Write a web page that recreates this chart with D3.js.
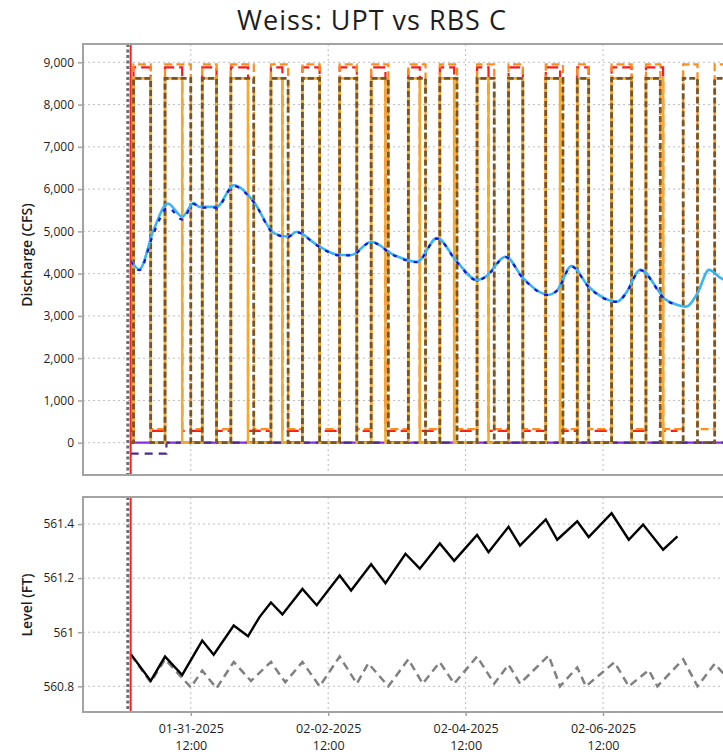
<!DOCTYPE html>
<html><head><meta charset="utf-8">
<script src="https://cdn.jsdelivr.net/npm/d3@7/dist/d3.min.js"></script>
<style>
body{margin:0;background:#fff;}
svg{display:block;font-family:"Open Sans","Noto Sans",sans-serif;}
</style>
</head><body>
<svg id="chart" width="723" height="755"></svg>
<script>
// ---------------- DATA ----------------
const chartTitle = "Weiss: UPT vs RBS C";
const forecastStart = "2025-01-30T15:00:00";   // red line
const axisStartHours = -16.65;                  // hours relative to forecastStart
const axisEndHours = 213.2;
const nowMarkerHours = -1;                      // gray dotted line
const xTickDates = ["2025-01-31T12:00:00","2025-02-02T12:00:00","2025-02-04T12:00:00","2025-02-06T12:00:00"];
const flowTicks = [0,1000,2000,3000,4000,5000,6000,7000,8000,9000];
const flowDomain = [-764, 9433];
const levelTicks = [560.8, 561, 561.2, 561.4];
const levelDomain = [560.705, 561.5];

// inflow (smooth)
const inflowHours = [0,3,8,13,18,22,24,30,36,43,50,55,58,65,73,77,84,92,100,107,114,121,124,131,137,146,149,154,160,170,173,178,187,191,194,198,202,206,211];
const inflowRBS = [4320,4100,5030,5660,5350,5670,5580,5580,6090,5700,4960,4875,4990,4680,4440,4440,4755,4440,4280,4840,4280,3850,3930,4400,3900,3500,3610,4180,3690,3340,3540,4090,3380,3260,3220,3540,4090,3900,3750];
const inflowUPTHours = [0,3,8,13,18,22,24,30,36,43,50,55,58,65,73,77,84,92,100,107,114,121,124,131,137,146,149,154,160,170,173,178,187,191];
const inflowUPT = [4300,4080,4950,5560,5280,5650,5560,5560,6070,5690,4950,4870,4980,4670,4430,4430,4745,4430,4270,4830,4270,3840,3920,4390,3890,3490,3600,4170,3680,3330,3530,4080,3370,3250];

// turbine outflow, UPT (solid orange) - step series
const uptFlowHours = [0,1,7,12,18,25,30,35,41,49,53,60,66,73,79,84,89,97,101,108,113,121,125,132,137,145,150,156,160,168,175,180,186,191];
const uptFlow      = [0,8620,0,8620,0,8620,0,8620,0,8620,0,8620,0,8620,0,8620,0,8620,0,8620,0,8620,0,8620,0,8620,0,8620,0,8620,0,8620,0,0];
// total outflow, UPT (red dashed)
const uptTotal     = [280,8880,280,8880,280,8880,280,8880,280,8880,280,8880,280,8880,280,8880,280,8880,280,8880,280,8880,280,8880,280,8880,280,8880,280,8880,280,8880,280,280];
// turbine outflow, RBS C (brown dashed)
const rbsFlowHours = [0,1,7,12,21,25,30,35,43,49,55,60,66,73,79,84,90,97,103,108,114,121,127,132,137,145,151,156,160,168,175,180,185,193,198,204,214];
const rbsFlow      = [0,8620,0,8620,0,8620,0,8620,0,8620,0,8620,0,8620,0,8620,0,8620,0,8620,0,8620,0,8620,0,8620,0,8620,0,8620,0,8620,0,8620,0,8620,8620];
// total outflow, RBS C (orange dashed)
const rbsTotal     = [320,8950,320,8950,320,8950,320,8950,320,8950,320,8950,320,8950,320,8950,320,8950,320,8950,320,8950,320,8950,320,8950,320,8950,320,8950,320,8950,320,8950,320,8950,8950];
// spill
const spillUPTHours = [0,214];
const spillUPT = [0,0];
const spillRBSHours = [0,12.5,214];
const spillRBS = [-260,0,0];

// pool level
const levelUPTHours = [0,7,12,18,25,29,36,41,45,49,53,60,65,73,77,84,89,96,101,108,113,116,121,125,132,136,145,149,156,160,168,174,179,186,191];
const levelUPT = [560.92,560.82,560.91,560.842,560.969,560.917,561.025,560.985,561.056,561.11,561.066,561.16,561.10,561.21,561.154,561.251,561.181,561.29,561.235,561.328,561.264,561.30,561.36,561.296,561.39,561.32,561.417,561.342,561.41,561.352,561.44,561.342,561.398,561.305,561.354];
const levelRBSHours = [0,7,12,21,25,30,36,42,49,54,60,66,73,79,83,90,97,102,108,113,121,127,132,136,146,150,156,159,169,174,181,184,193,198,204,212];
const levelRBS = [560.917,560.815,560.90,560.796,560.858,560.793,560.89,560.82,560.89,560.815,560.89,560.80,560.91,560.81,560.885,560.80,560.90,560.81,560.889,560.81,560.91,560.81,560.88,560.81,560.914,560.80,560.87,560.80,560.889,560.80,560.86,560.80,560.90,560.80,560.883,560.79];

// ---------------- CHART ----------------
const svg = d3.select("#chart");
const t0 = new Date(forecastStart);
const hr = h => new Date(t0.getTime() + h * 3600e3);
const L = 83, R = 741;
const top1 = 44, bot1 = 475, top2 = 497, bot2 = 712;

const x = d3.scaleTime().domain([hr(axisStartHours), hr(axisEndHours)]).range([L, R]);
const yF = d3.scaleLinear().domain(flowDomain).range([bot1, top1]);
const yL = d3.scaleLinear().domain(levelDomain).range([bot2, top2]);
const xTicks = xTickDates.map(d => new Date(d));

const gridColor = "#bdbdbd", frameColor = "#a3a3a3", textColor = "#1e1e1e";

svg.append("defs").call(d => {
  d.append("clipPath").attr("id","clip1").append("rect").attr("x",L).attr("y",top1).attr("width",R-L).attr("height",bot1-top1);
  d.append("clipPath").attr("id","clip2").append("rect").attr("x",L).attr("y",top2).attr("width",R-L).attr("height",bot2-top2);
});

svg.append("text").attr("x", 372).attr("y", 30).attr("text-anchor","middle")
  .attr("font-size", 27).attr("letter-spacing", 1).attr("fill", textColor).text(chartTitle);

function panel(yScale, ticks, fmt, top, bot, clipId) {
  const g = svg.append("g");
  g.selectAll(".hg").data(ticks).join("line")
    .attr("x1", L).attr("x2", R).attr("y1", d => yScale(d)).attr("y2", d => yScale(d))
    .attr("stroke", gridColor).attr("stroke-dasharray","2,3").attr("stroke-width",1);
  g.selectAll(".vg").data(xTicks).join("line")
    .attr("x1", d => x(d)).attr("x2", d => x(d)).attr("y1", top).attr("y2", bot)
    .attr("stroke", gridColor).attr("stroke-dasharray","2,3").attr("stroke-width",1);
  const ax = g.append("g").attr("transform", `translate(${L},0)`)
    .call(d3.axisLeft(yScale).tickValues(ticks).tickFormat(fmt).tickSize(5).tickPadding(4));
  ax.select(".domain").remove();
  ax.selectAll(".tick line").attr("stroke", frameColor).attr("stroke-width",1.5);
  ax.selectAll(".tick text").attr("font-size", 12).attr("fill", textColor).attr("font-family","Open Sans");
  return svg.append("g").attr("clip-path", `url(#${clipId})`);
}

const c1 = panel(yF, flowTicks, d3.format(","), top1, bot1, "clip1");
const c2 = panel(yL, levelTicks, d => String(d), top2, bot2, "clip2");

function series(g, hours, vals, yScale, curve, color, width, dash) {
  const data = hours.map((h, i) => [hr(h), vals[i]]);
  g.append("path").datum(data)
    .attr("d", d3.line().x(d => x(d[0])).y(d => yScale(d[1])).curve(curve))
    .attr("fill","none").attr("stroke", color).attr("stroke-width", width)
    .attr("stroke-dasharray", dash || null).attr("stroke-linejoin","miter");
}

series(c1, spillUPTHours, spillUPT, yF, d3.curveStepAfter, "#8a2be2", 2.2);
series(c1, spillRBSHours, spillRBS, yF, d3.curveStepAfter, "#4b2a8c", 2.2, "8,6");
series(c1, uptFlowHours, uptTotal, yF, d3.curveStepAfter, "#ff1a1a", 2.2, "12,5");
series(c1, rbsFlowHours, rbsTotal, yF, d3.curveStepAfter, "#ff8c1a", 2.2, "8,4");
series(c1, uptFlowHours, uptFlow, yF, d3.curveStepAfter, "#f2ab2e", 2.6);
series(c1, rbsFlowHours, rbsFlow, yF, d3.curveStepAfter, "#7a5524", 2.8, "6,3");
series(c1, inflowHours, inflowRBS, yF, d3.curveMonotoneX, "#3ab4f2", 2.6);
series(c1, inflowUPTHours, inflowUPT, yF, d3.curveMonotoneX, "#1414d8", 2.2, "4,7");

series(c2, levelRBSHours, levelRBS, yL, d3.curveLinear, "#808080", 2.5, "8,5");
series(c2, levelUPTHours, levelUPT, yL, d3.curveLinear, "#000000", 2.4);

[[top1,bot1],[top2,bot2]].forEach(([a,b]) => {
  svg.append("line").attr("x1", x(hr(nowMarkerHours))).attr("x2", x(hr(nowMarkerHours)))
    .attr("y1", a).attr("y2", b).attr("stroke","#6e6e6e").attr("stroke-width",3).attr("stroke-dasharray","3,2.5");
  svg.append("line").attr("x1", x(t0)).attr("x2", x(t0))
    .attr("y1", a).attr("y2", b).attr("stroke","#ff2020").attr("stroke-width",2);
});

[[top1,bot1],[top2,bot2]].forEach(([a,b]) => {
  svg.append("rect").attr("x", L).attr("y", a).attr("width", R - L).attr("height", b - a)
    .attr("fill","none").attr("stroke", frameColor).attr("stroke-width", 2);
});

const xa = svg.append("g").attr("transform", `translate(0,${bot2})`)
  .call(d3.axisBottom(x).tickValues(xTicks).tickSize(4).tickFormat(""));
xa.select(".domain").remove();
xa.selectAll(".tick line").attr("stroke", frameColor).attr("stroke-width",1.5);
const fmtDate = d3.timeFormat("%m-%d-%Y"), fmtTime = d3.timeFormat("%H:%M");
xa.selectAll(".tick").append("text").attr("text-anchor","middle").attr("fill", textColor)
  .attr("font-size", 12.5).attr("font-family","Open Sans")
  .call(t => {
    t.append("tspan").attr("x",0).attr("y",21).text(d => fmtDate(d));
    t.append("tspan").attr("x",0).attr("y",38).text(d => fmtTime(d));
  });

svg.append("text").attr("transform", "translate(32,255) rotate(-90)").attr("text-anchor","middle")
  .attr("font-size", 14).attr("font-weight", 600).attr("fill", textColor).text("Discharge (CFS)");
svg.append("text").attr("transform", "translate(32,605) rotate(-90)").attr("text-anchor","middle")
  .attr("font-size", 14).attr("font-weight", 600).attr("fill", textColor).text("Level (FT)");
</script>
</body></html>
